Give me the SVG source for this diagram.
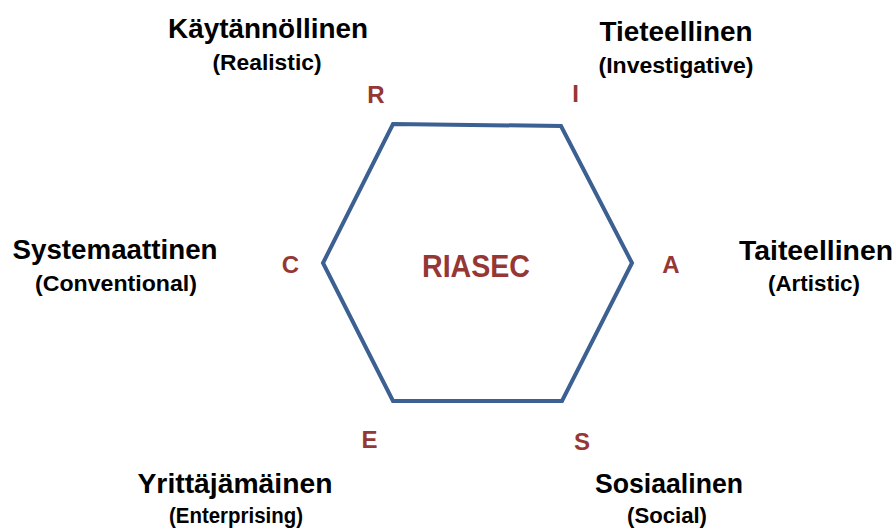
<svg xmlns="http://www.w3.org/2000/svg" width="896" height="531" viewBox="0 0 896 531">
<style>
text{font-family:"Liberation Sans",Arial,sans-serif;font-weight:bold;text-anchor:middle}
.t{font-size:28px;fill:#000}
.s{font-size:22px;fill:#000}
.l{font-size:24px;fill:#953735}
.c{font-size:31px;fill:#953735}
.hex{fill:none;stroke:#3B6091;stroke-width:4;stroke-linejoin:miter}
</style>
<rect width="896" height="531" fill="#fff"/>
<g id="hexagon">
<polygon class="hex" points="393,124 561,126 632,263 562,401 393,401 323,263"/>
<text class="c" x="476" y="277" textLength="108" lengthAdjust="spacingAndGlyphs">RIASEC</text>
</g>
<g id="node-R">
<text class="t" x="268" y="38" textLength="200" lengthAdjust="spacingAndGlyphs">Käytännöllinen</text>
<text class="s" x="267" y="70" textLength="109" lengthAdjust="spacingAndGlyphs">(Realistic)</text>
<text class="l" x="376" y="103">R</text>
</g>
<g id="node-I">
<text class="t" x="676" y="41" textLength="153" lengthAdjust="spacingAndGlyphs">Tieteellinen</text>
<text class="s" x="676" y="73" textLength="155" lengthAdjust="spacingAndGlyphs">(Investigative)</text>
<text class="l" x="575.5" y="102">I</text>
</g>
<g id="node-A">
<text class="t" x="816" y="260" textLength="154" lengthAdjust="spacingAndGlyphs">Taiteellinen</text>
<text class="s" x="814" y="291" textLength="92" lengthAdjust="spacingAndGlyphs">(Artistic)</text>
<text class="l" x="671" y="273">A</text>
</g>
<g id="node-S">
<text class="t" x="669" y="493" textLength="148" lengthAdjust="spacingAndGlyphs">Sosiaalinen</text>
<text class="s" x="667" y="523" textLength="80" lengthAdjust="spacingAndGlyphs">(Social)</text>
<text class="l" x="582" y="450">S</text>
</g>
<g id="node-E">
<text class="t" x="235" y="493" textLength="195" lengthAdjust="spacingAndGlyphs">Yrittäjämäinen</text>
<text class="s" x="236" y="523" textLength="134" lengthAdjust="spacingAndGlyphs">(Enterprising)</text>
<text class="l" x="369.5" y="448">E</text>
</g>
<g id="node-C">
<text class="t" x="115" y="259" textLength="205" lengthAdjust="spacingAndGlyphs">Systemaattinen</text>
<text class="s" x="116" y="291" textLength="162" lengthAdjust="spacingAndGlyphs">(Conventional)</text>
<text class="l" x="290.5" y="273">C</text>
</g>
<g id="connectors"></g>
</svg>
